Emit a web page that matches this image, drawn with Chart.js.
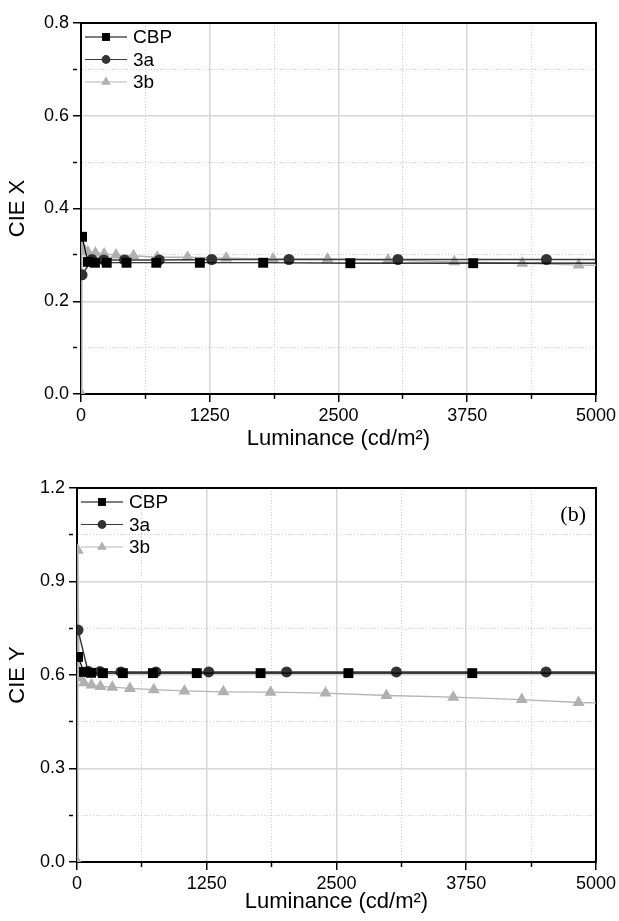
<!DOCTYPE html>
<html>
<head>
<meta charset="utf-8">
<script src="https://cdn.jsdelivr.net/npm/chart.js@4.4.1/dist/chart.umd.min.js"></script>
<style>
  html, body { margin: 0; padding: 0; background: #fff; }
  .box { position: relative; width: 619px; }
  #topBox { height: 460px; }
  #botBox { height: 461px; }
</style>
</head>
<body>
<div class="box" id="topBox"><canvas id="chartX"></canvas></div>
<div class="box" id="botBox"><canvas id="chartY"></canvas></div>
<script>
// luminance (cd/m2) of each measured point, per device
const lumCBP = [10, 67, 135, 250, 442, 731, 1154, 1769, 2615, 3808, 5600];
const lum3a  = [10, 106, 221, 423, 760, 1269, 2019, 3077, 4519, 5600];
const lum3b  = [3, 8, 20, 67, 140, 225, 340, 510, 740, 1035, 1410, 1865, 2394, 2981, 3625, 4285, 4832, 5300];

// CIE x coordinate
const cieXCBP = [0.339, 0.285, 0.283, 0.283, 0.283, 0.283, 0.283, 0.283, 0.282, 0.282, 0.282];
const cieX3a  = [0.257, 0.290, 0.289, 0.289, 0.289, 0.290, 0.290, 0.290, 0.290, 0.290];
const cieX3b  = [0.0, 0.320, 0.311, 0.306, 0.304, 0.302, 0.300, 0.298, 0.295, 0.295, 0.293, 0.291, 0.291, 0.289, 0.285, 0.282, 0.278, 0.277];

// CIE y coordinate
const cieYCBP = [0.658, 0.610, 0.607, 0.606, 0.606, 0.606, 0.606, 0.606, 0.606, 0.606, 0.606];
const cieY3a  = [0.744, 0.612, 0.611, 0.610, 0.610, 0.610, 0.610, 0.610, 0.610, 0.610];
const cieY3b  = [0.0, 1.0, 0.590, 0.575, 0.568, 0.563, 0.561, 0.557, 0.553, 0.549, 0.546, 0.545, 0.542, 0.534, 0.529, 0.521, 0.512, 0.508];

const seriesNames = ["CBP", "3a", "3b"];
const xTickLabels = [0, 1250, 2500, 3750, 5000];

const FONT = "'Liberation Sans', Arial, sans-serif";

function pts(xs, ys) {
  return xs.map((x, i) => ({ x: x, y: ys[i] }));
}

const seriesStyle = [
  { borderColor: "#000", backgroundColor: "#000", pointStyle: "rect", pointRadius: 7, borderWidth: 1.2 },
  { borderColor: "#3a3a3a", backgroundColor: "#333", pointStyle: "circle", pointRadius: 5.5, borderWidth: 1.5 },
  { borderColor: "#b4b4b4", backgroundColor: "#b0b0b0", pointStyle: "triangle", pointRadius: 7, borderWidth: 1.4 }
];

// top & right frame lines
const framePlugin = {
  id: "frame",
  beforeDatasetsDraw(chart) {
    const { ctx, chartArea: a } = chart;
    ctx.save();
    ctx.strokeStyle = "#000";
    ctx.lineWidth = 2;
    ctx.strokeRect(a.left, a.top, a.right - a.left, a.bottom - a.top);
    ctx.restore();
  }
};

// legend with line through marker, drawn inside the plot
const insideLegend = {
  id: "insideLegend",
  afterDatasetsDraw(chart, args, opts) {
    const { ctx, chartArea: a } = chart;
    ctx.save();
    ctx.font = "19px " + FONT;
    ctx.textBaseline = "middle";
    chart.data.datasets.forEach((ds, i) => {
      const y = a.top + opts.top + i * opts.gap;
      const x0 = a.left + opts.left;
      ctx.strokeStyle = ds.borderColor;
      ctx.lineWidth = 1;
      ctx.beginPath();
      ctx.moveTo(x0, y);
      ctx.lineTo(x0 + 42, y);
      ctx.stroke();
      ctx.fillStyle = ds.backgroundColor;
      Chart.helpers.drawPoint(ctx, { pointStyle: ds.pointStyle, radius: ds.pointRadius * 0.8, rotation: 0, borderWidth: 0 }, x0 + 21, y);
      ctx.fillStyle = "#000";
      ctx.fillText(ds.label, x0 + 48, y + 1);
    });
    if (opts.tag) {
      ctx.font = "22px 'Liberation Serif', 'Times New Roman', serif";
      ctx.textAlign = "right";
      ctx.fillText(opts.tag, a.right - 10, a.top + 27);
    }
    ctx.restore();
  }
};

function makeChart(id, cfg) {
  const datasets = cfg.series.map((s, i) => Object.assign({
    label: seriesNames[i],
    data: s,
    showLine: true,
    tension: 0,
    pointBorderWidth: 0,
    pointHoverRadius: 0
  }, seriesStyle[i]));

  return new Chart(document.getElementById(id), {
    type: "line",
    data: { datasets: datasets },
    plugins: [framePlugin, insideLegend],
    options: {
      responsive: true,
      maintainAspectRatio: false,
      animation: false,
      events: [],
      layout: { padding: { top: cfg.padTop, right: cfg.padRight, left: 0, bottom: 0 } },
      plugins: {
        legend: { display: false },
        tooltip: { enabled: false },
        insideLegend: { left: 4, top: 14, gap: 22.5, tag: cfg.tag }
      },
      scales: {
        x: {
          type: "linear",
          min: 0, max: 5000,
          afterFit: s => { s.height = cfg.xHeight; },
          ticks: {
            stepSize: 625,
            autoSkip: false,
            maxRotation: 0,
            padding: 3,
            color: "#000",
            font: { family: FONT, size: 18 },
            callback: v => xTickLabels.includes(v) ? String(v) : ""
          },
          grid: {
            color: c => (c.tick && c.tick.value % 1250 === 0) ? "#d6d6d6" : "#cfcfcf",
            lineWidth: c => (c.tick && c.tick.value % 1250 === 0) ? 1.5 : 1,
            tickLength: 8,
            tickColor: "#000",
            tickWidth: 1.5,
            tickBorderDash: c => (c.tick && c.tick.value % 1250 === 0) ? [] : [4, 50]
          },
          border: {
            color: "#000", width: 2,
            dash: c => (c.tick && c.tick.value % 1250 !== 0) ? [1, 2] : []
          },
          title: {
            display: true,
            text: "Luminance (cd/m\u00B2)",
            color: "#000",
            font: { family: FONT, size: 22 },
            padding: { top: 0, bottom: cfg.xTitlePad }
          }
        },
        y: {
          min: 0, max: cfg.yMax,
          afterFit: s => { s.width = cfg.yWidth; },
          ticks: {
            stepSize: cfg.yStep / 2,
            autoSkip: false,
            padding: 4,
            color: "#000",
            font: { family: FONT, size: 18 },
            callback: v => (Math.round(v / (cfg.yStep / 2)) % 2 === 0) ? v.toFixed(1) : ""
          },
          grid: {
            color: c => (c.tick && Math.round(c.tick.value / (cfg.yStep / 2)) % 2 === 0) ? "#d6d6d6" : "#cfcfcf",
            lineWidth: c => (c.tick && Math.round(c.tick.value / (cfg.yStep / 2)) % 2 === 0) ? 1.5 : 1,
            tickLength: 8,
            tickColor: "#000",
            tickWidth: 1.5,
            tickBorderDash: c => (c.tick && Math.round(c.tick.value / (cfg.yStep / 2)) % 2 === 0) ? [] : [4, 50]
          },
          border: {
            color: "#000", width: 2,
            dash: c => (c.tick && Math.round(c.tick.value / (cfg.yStep / 2)) % 2 !== 0) ? [1, 2] : []
          },
          title: {
            display: true,
            text: cfg.yTitle,
            color: "#000",
            font: { family: FONT, size: 22 },
            padding: { top: 5, bottom: 0 }
          }
        }
      }
    }
  });
}

makeChart("chartX", {
  series: [pts(lumCBP, cieXCBP), pts(lum3a, cieX3a), pts(lum3b, cieX3b)],
  yMax: 0.8, yStep: 0.2, yTitle: "CIE X",
  padTop: 23, padRight: 16, yWidth: 81, xHeight: 66, xTitlePad: 8
});

makeChart("chartY", {
  series: [pts(lumCBP, cieYCBP), pts(lum3a, cieY3a), pts(lum3b, cieY3b)],
  yMax: 1.2, yStep: 0.3, yTitle: "CIE Y",
  padTop: 28, padRight: 20, yWidth: 77, xHeight: 59, xTitlePad: 6, tag: "(b)"
});
</script>
</body>
</html>
